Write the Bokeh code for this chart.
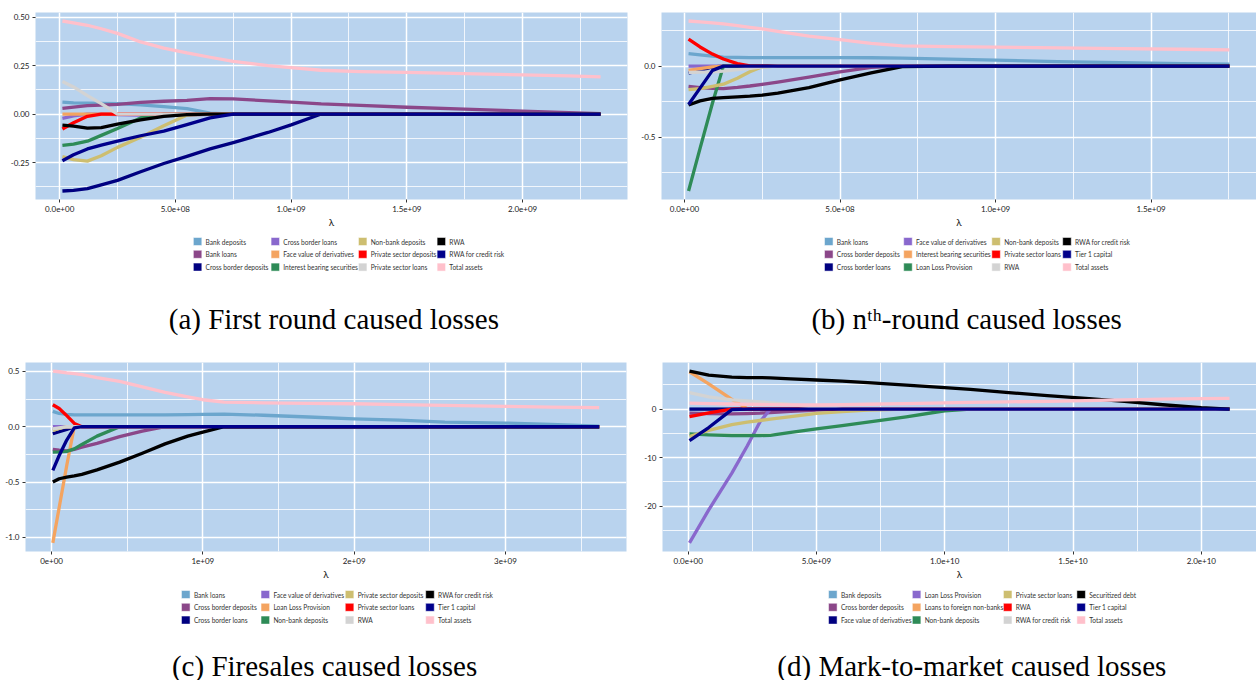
from bokeh.plotting import figure
from bokeh.models import FixedTicker, CustomJSTickFormatter, DataRange1d, Range1d
from bokeh.core.properties import value
from bokeh.layouts import column, row
from bokeh.embed import file_html
from bokeh.resources import INLINE

PALETTE = ["#6CA6CD", "#8B4789", "#000080", "#8968CD", "#F4A460", "#2E8B57",
           "#CDBE70", "#FF0000", "#D3D3D3", "#000000", "#00008B", "#FFC0CB"]
BG = "#B9D3EE"

# ---------------- (a) First round caused losses ----------------
a_lambda = [0.012e9, 0.06e9, 0.12e9, 0.18e9, 0.25e9, 0.35e9, 0.45e9, 0.55e9, 0.65e9, 0.75e9,
            0.9e9, 1.0e9, 1.13e9, 1.3e9, 1.5e9, 1.75e9, 2.0e9, 2.2e9, 2.337e9]
a_names = ["Bank deposits", "Bank loans", "Cross border deposits", "Cross border loans",
           "Face value of derivatives", "Interest bearing securities", "Non-bank deposits",
           "Private sector deposits", "Private sector loans", "RWA", "RWA for credit risk",
           "Total assets"]
a_bank_deposits = [0.062, 0.058, 0.056, 0.055, 0.054, 0.047, 0.038, 0.028, 0.005, 0, 0, 0, 0, 0, 0, 0, 0, 0, 0]
a_bank_loans = [0.029, 0.036, 0.043, 0.046, 0.050, 0.060, 0.066, 0.070, 0.080, 0.078, 0.068, 0.062, 0.052, 0.045, 0.035, 0.025, 0.015, 0.007, 0.002]
a_cross_border_deposits = [-0.397, -0.394, -0.385, -0.365, -0.342, -0.298, -0.255, -0.218, -0.180, -0.147, -0.095, -0.056, 0, 0, 0, 0, 0, 0, 0]
a_cross_border_loans = [-0.022, -0.010, 0, 0, -0.003, -0.006, -0.008, -0.006, -0.002, 0, 0, 0, 0, 0, 0, 0, 0, 0, 0]
a_face_value = [0, 0, 0, 0, 0, 0, 0, 0, 0, 0, 0, 0, 0, 0, 0, 0, 0, 0, 0]
a_interest_bearing = [-0.162, -0.155, -0.140, -0.110, -0.075, -0.020, 0, 0, 0, 0, 0, 0, 0, 0, 0, 0, 0, 0, 0]
a_non_bank_deposits = [-0.220, -0.235, -0.243, -0.215, -0.172, -0.120, -0.060, -0.005, 0, 0, 0, 0, 0, 0, 0, 0, 0, 0, 0]
a_private_deposits = [-0.077, -0.045, -0.012, 0, 0, 0, 0, 0, 0, 0, 0, 0, 0, 0, 0, 0, 0, 0, 0]
a_private_loans = [0.168, 0.140, 0.095, 0.054, 0, 0, 0, 0, 0, 0, 0, 0, 0, 0, 0, 0, 0, 0, 0]
a_rwa = [-0.057, -0.062, -0.073, -0.070, -0.052, -0.030, -0.012, -0.003, 0, 0, 0, 0, 0, 0, 0, 0, 0, 0, 0]
a_rwa_credit = [-0.241, -0.210, -0.180, -0.160, -0.140, -0.112, -0.088, -0.055, -0.020, 0, 0, 0, 0, 0, 0, 0, 0, 0, 0]
a_total_assets = [0.480, 0.470, 0.458, 0.440, 0.416, 0.372, 0.340, 0.315, 0.293, 0.272, 0.250, 0.239, 0.226, 0.219, 0.215, 0.208, 0.202, 0.197, 0.192]
a_series = [a_bank_deposits, a_bank_loans, a_cross_border_deposits, a_cross_border_loans,
            a_face_value, a_interest_bearing, a_non_bank_deposits, a_private_deposits,
            a_private_loans, a_rwa, a_rwa_credit, a_total_assets]
a_xticks = [0, 5e8, 1e9, 1.5e9, 2e9]
a_xlabels = ["0.0e+00", "5.0e+08", "1.0e+09", "1.5e+09", "2.0e+09"]
a_xminor = [2.5e8, 7.5e8, 1.25e9, 1.75e9, 2.25e9]
a_yticks = [-0.25, 0.0, 0.25, 0.5]
a_ylabels = ["-0.25", "0.00", "0.25", "0.50"]
a_yminor = [-0.375, -0.125, 0.125, 0.375]
a_caption = "(a) First round caused losses"

# ---------------- (b) n-th round caused losses ----------------
b_lambda = [0.013e9, 0.05e9, 0.09e9, 0.125e9, 0.17e9, 0.21e9, 0.25e9, 0.3e9, 0.4e9, 0.5e9,
            0.6e9, 0.7e9, 0.85e9, 1.0e9, 1.2e9, 1.4e9, 1.6e9, 1.752e9]
b_names = ["Bank loans", "Cross border deposits", "Cross border loans", "Face value of derivatives",
           "Interest bearing securities", "Loan Loss Provision", "Non-bank deposits",
           "Private sector loans", "RWA", "RWA for credit risk", "Tier 1 capital", "Total assets"]
b_bank_loans = [0.088, 0.080, 0.070, 0.064, 0.061, 0.060, 0.060, 0.060, 0.060, 0.060, 0.059, 0.056, 0.050, 0.042, 0.032, 0.024, 0.017, 0.014]
b_cross_border_deposits = [-0.143, -0.152, -0.157, -0.158, -0.150, -0.140, -0.128, -0.112, -0.078, -0.040, -0.008, 0, 0, 0, 0, 0, 0, 0]
b_cross_border_loans = [-0.050, -0.030, -0.005, 0, 0, 0, 0, 0, 0, 0, 0, 0, 0, 0, 0, 0, 0, 0]
b_face_value = [0, 0, 0, 0, 0, 0, 0, 0, 0, 0, 0, 0, 0, 0, 0, 0, 0, 0]
b_interest_bearing = [-0.030, -0.018, -0.005, 0, 0, 0, 0, 0, 0, 0, 0, 0, 0, 0, 0, 0, 0, 0]
b_loan_loss = [-0.880, -0.580, -0.260, 0, 0, 0, 0, 0, 0, 0, 0, 0, 0, 0, 0, 0, 0, 0]
b_non_bank_deposits = [-0.166, -0.158, -0.142, -0.127, -0.085, -0.040, -0.005, 0, 0, 0, 0, 0, 0, 0, 0, 0, 0, 0]
b_private_loans = [0.190, 0.135, 0.085, 0.050, 0.018, 0.002, 0, 0, 0, 0, 0, 0, 0, 0, 0, 0, 0, 0]
b_rwa = [-0.045, -0.042, -0.040, -0.035, -0.025, -0.015, -0.005, 0, 0, 0, 0, 0, 0, 0, 0, 0, 0, 0]
b_rwa_credit = [-0.274, -0.245, -0.228, -0.222, -0.217, -0.212, -0.205, -0.190, -0.152, -0.097, -0.048, -0.003, 0, 0, 0, 0, 0, 0]
b_tier1 = [-0.270, -0.155, -0.030, 0, 0, 0, 0, 0, 0, 0, 0, 0, 0, 0, 0, 0, 0, 0]
b_total_assets = [0.318, 0.312, 0.305, 0.298, 0.285, 0.273, 0.262, 0.245, 0.212, 0.187, 0.160, 0.143, 0.137, 0.134, 0.129, 0.124, 0.119, 0.115]
b_series = [b_bank_loans, b_cross_border_deposits, b_cross_border_loans, b_face_value,
            b_interest_bearing, b_loan_loss, b_non_bank_deposits, b_private_loans, b_rwa,
            b_rwa_credit, b_tier1, b_total_assets]
b_xticks = [0, 5e8, 1e9, 1.5e9]
b_xlabels = ["0.0e+00", "5.0e+08", "1.0e+09", "1.5e+09"]
b_xminor = [2.5e8, 7.5e8, 1.25e9, 1.75e9]
b_yticks = [-0.5, 0.0]
b_ylabels = ["-0.5", "0.0"]
b_yminor = [-0.75, -0.25, 0.25]
b_caption = "(b) n\u1d57\u02b0-round caused losses"

# ---------------- (c) Firesales caused losses ----------------
c_lambda = [0.008e9, 0.05e9, 0.1e9, 0.15e9, 0.2e9, 0.3e9, 0.45e9, 0.6e9, 0.75e9, 0.9e9,
            1.0e9, 1.14e9, 1.4e9, 1.7e9, 2.0e9, 2.3e9, 2.6e9, 3.0e9, 3.3e9, 3.62e9]
c_names = ["Bank loans", "Cross border deposits", "Cross border loans", "Face value of derivatives",
           "Loan Loss Provision", "Non-bank deposits", "Private sector deposits",
           "Private sector loans", "RWA", "RWA for credit risk", "Tier 1 capital", "Total assets"]
c_bank_loans = [0.139, 0.120, 0.111, 0.108, 0.107, 0.107, 0.107, 0.108, 0.108, 0.109, 0.111, 0.114, 0.104, 0.088, 0.072, 0.059, 0.042, 0.033, 0.022, 0.006]
c_cross_border_deposits = [-0.205, -0.212, -0.218, -0.205, -0.185, -0.150, -0.090, -0.040, 0, 0, 0, 0, 0, 0, 0, 0, 0, 0, 0, 0]
c_cross_border_loans = [-0.063, -0.045, -0.025, 0, 0, 0, 0, 0, 0, 0, 0, 0, 0, 0, 0, 0, 0, 0, 0, 0]
c_face_value = [0, 0, 0, 0, 0, 0, 0, 0, 0, 0, 0, 0, 0, 0, 0, 0, 0, 0, 0, 0]
c_loan_loss = [-1.050, -0.730, -0.350, 0, 0, 0, 0, 0, 0, 0, 0, 0, 0, 0, 0, 0, 0, 0, 0, 0]
c_non_bank_deposits = [-0.229, -0.227, -0.223, -0.200, -0.160, -0.085, 0, 0, 0, 0, 0, 0, 0, 0, 0, 0, 0, 0, 0, 0]
c_private_deposits = [-0.033, -0.015, 0, 0, 0, 0, 0, 0, 0, 0, 0, 0, 0, 0, 0, 0, 0, 0, 0, 0]
c_private_loans = [0.199, 0.165, 0.100, 0.030, 0, 0, 0, 0, 0, 0, 0, 0, 0, 0, 0, 0, 0, 0, 0, 0]
c_rwa = [-0.020, -0.010, 0, 0, 0, 0, 0, 0, 0, 0, 0, 0, 0, 0, 0, 0, 0, 0, 0, 0]
c_rwa_credit = [-0.500, -0.470, -0.455, -0.445, -0.430, -0.390, -0.320, -0.240, -0.155, -0.085, -0.048, 0, 0, 0, 0, 0, 0, 0, 0, 0]
c_tier1 = [-0.395, -0.260, -0.120, -0.010, 0, 0, 0, 0, 0, 0, 0, 0, 0, 0, 0, 0, 0, 0, 0, 0]
c_total_assets = [0.503, 0.497, 0.487, 0.480, 0.472, 0.445, 0.410, 0.360, 0.310, 0.270, 0.244, 0.223, 0.216, 0.212, 0.208, 0.200, 0.193, 0.184, 0.178, 0.172]
c_series = [c_bank_loans, c_cross_border_deposits, c_cross_border_loans, c_face_value,
            c_loan_loss, c_non_bank_deposits, c_private_deposits, c_private_loans, c_rwa,
            c_rwa_credit, c_tier1, c_total_assets]
c_xticks = [0, 1e9, 2e9, 3e9]
c_xlabels = ["0e+00", "1e+09", "2e+09", "3e+09"]
c_xminor = [5e8, 1.5e9, 2.5e9, 3.5e9]
c_yticks = [-1.0, -0.5, 0.0, 0.5]
c_ylabels = ["-1.0", "-0.5", "0.0", "0.5"]
c_yminor = [-0.75, -0.25, 0.25]
c_caption = "(c) Firesales caused losses"

# ---------------- (d) Mark-to-market caused losses ----------------
d_lambda = [0.05e9, 0.8e9, 1.7e9, 2.3e9, 2.8e9, 3.2e9, 4.0e9, 5.0e9, 6.0e9, 7.0e9,
            8.5e9, 10.0e9, 11.0e9, 12.5e9, 14.0e9, 15.5e9, 17.0e9, 18.5e9, 20.0e9, 21.1e9]
d_names = ["Bank deposits", "Cross border deposits", "Face value of derivatives",
           "Loan Loss Provision", "Loans to foreign non-banks", "Non-bank deposits",
           "Private sector loans", "RWA", "RWA for credit risk", "Securitized debt",
           "Tier 1 capital", "Total assets"]
d_bank_deposits = [0, 0, 0, 0, 0, 0, 0, 0, 0, 0, 0, 0, 0, 0, 0, 0, 0, 0, 0, 0]
d_cross_border_deposits = [-0.82, -0.95, -1.00, -0.95, -0.85, -0.70, -0.45, -0.20, 0, 0, 0, 0, 0, 0, 0, 0, 0, 0, 0, 0]
d_face_value = [0, 0, 0, 0, 0, 0, 0, 0, 0, 0, 0, 0, 0, 0, 0, 0, 0, 0, 0, 0]
d_loan_loss = [-27.6, -20.8, -13.2, -7.6, -2.6, 0, 0, 0, 0, 0, 0, 0, 0, 0, 0, 0, 0, 0, 0, 0]
d_loans_foreign = [7.7, 5.2, 2.0, 0.1, 0, 0, 0, 0, 0, 0, 0, 0, 0, 0, 0, 0, 0, 0, 0, 0]
d_non_bank_deposits = [-5.10, -5.30, -5.45, -5.45, -5.45, -5.40, -4.80, -4.10, -3.40, -2.70, -1.60, -0.34, 0, 0, 0, 0, 0, 0, 0, 0]
d_private_loans = [-5.65, -4.40, -3.20, -2.70, -2.35, -2.05, -1.55, -0.90, -0.50, -0.20, 0, 0, 0, 0, 0, 0, 0, 0, 0, 0]
d_rwa = [-1.56, -0.80, 0, 0, 0, 0, 0, 0, 0, 0, 0, 0, 0, 0, 0, 0, 0, 0, 0, 0]
d_rwa_credit = [3.40, 2.50, 1.90, 1.70, 1.50, 1.30, 0.95, 0.40, 0, 0, 0, 0, 0, 0, 0, 0, 0, 0, 0, 0]
d_securitized = [7.84, 7.00, 6.60, 6.50, 6.50, 6.45, 6.25, 6.00, 5.75, 5.45, 4.95, 4.43, 4.05, 3.40, 2.80, 2.20, 1.60, 0.90, 0.30, 0.00]
d_tier1 = [-6.50, -3.80, -0.10, 0, 0, 0, 0, 0, 0, 0, 0, 0, 0, 0, 0, 0, 0, 0, 0, 0]
d_total_assets = [1.23, 1.15, 1.05, 1.00, 0.95, 0.92, 0.87, 0.85, 0.90, 1.00, 1.15, 1.30, 1.40, 1.50, 1.60, 1.75, 1.90, 2.05, 2.15, 2.20]
d_series = [d_bank_deposits, d_cross_border_deposits, d_face_value, d_loan_loss, d_loans_foreign,
            d_non_bank_deposits, d_private_loans, d_rwa, d_rwa_credit, d_securitized, d_tier1,
            d_total_assets]
d_xticks = [0, 5e9, 1e10, 1.5e10, 2e10]
d_xlabels = ["0.0e+00", "5.0e+09", "1.0e+10", "1.5e+10", "2.0e+10"]
d_xminor = [2.5e9, 7.5e9, 1.25e10, 1.75e10]
d_yticks = [-20, -10, 0]
d_ylabels = ["-20", "-10", "0"]
d_yminor = [-25, -15, -5, 5]
d_caption = "(d) Mark-to-market caused losses"

FMT_CODE = """
for (let i = 0; i < tv.length; i++) {
  if (Math.abs(tv[i] - tick) <= 1e-6 * Math.max(1, Math.abs(tv[i]))) { return tl[i]; }
}
return "";
"""


def make_plot(xs, series, xticks, xlabels, xminor, yticks, ylabels, yminor,
              width, height, bl, br, bt, bb):
    p = figure(width=width, height=height, output_backend="svg", toolbar_location=None,
               x_range=DataRange1d(range_padding=0.1), y_range=DataRange1d(range_padding=0.1),
               min_border_left=bl, min_border_right=br, min_border_top=bt, min_border_bottom=bb)
    p.background_fill_color = BG
    p.border_fill_color = "white"
    p.outline_line_color = None

    for ys, color in zip(series, PALETTE):
        p.line(xs, ys, line_color=color, line_width=3.3, line_join="round")

    xt = FixedTicker(ticks=xticks, minor_ticks=xminor)
    yt = FixedTicker(ticks=yticks, minor_ticks=yminor)
    p.xaxis.ticker = xt
    p.yaxis.ticker = yt
    p.xgrid.ticker = xt
    p.ygrid.ticker = yt
    p.xaxis.formatter = CustomJSTickFormatter(args=dict(tv=xticks, tl=xlabels), code=FMT_CODE)
    p.yaxis.formatter = CustomJSTickFormatter(args=dict(tv=yticks, tl=ylabels), code=FMT_CODE)

    for g in (p.xgrid, p.ygrid):
        g.grid_line_color = "white"
        g.grid_line_width = 1.5
        g.minor_grid_line_color = "white"
        g.minor_grid_line_width = 0.8

    for ax in (p.xaxis, p.yaxis):
        ax.axis_line_color = None
        ax.major_tick_line_color = "#333333"
        ax.major_tick_out = 3
        ax.major_tick_in = 0
        ax.minor_tick_line_color = None
        ax.major_label_text_font = "Lato"
        ax.major_label_text_font_size = "8px"
        ax.major_label_text_color = "#1a1a1a"
        ax.major_label_standoff = 2
    p.xaxis.axis_label = "λ"
    p.xaxis.axis_label_text_font = "Lato"
    p.xaxis.axis_label_text_font_style = "normal"
    p.xaxis.axis_label_text_font_size = "10px"
    p.xaxis.axis_label_text_color = "#1a1a1a"
    p.xaxis.axis_label_standoff = 1
    return p


def make_legend(names, caption, width, height, leg_center, col_offsets, leg_width,
                row_y0, cap_x, cap_y):
    p = figure(width=width, height=height, output_backend="svg", toolbar_location=None,
               x_range=Range1d(0, width), y_range=Range1d(height, 0),
               x_axis_type=None, y_axis_type=None, min_border=0)
    p.outline_line_color = None
    p.background_fill_color = "white"
    p.border_fill_color = "white"
    left = leg_center - leg_width / 2
    gx, gy, lx = [], [], []
    for k in range(len(names)):
        c, r = divmod(k, 3)
        gx.append(left + col_offsets[c] + 4.5)
        gy.append(row_y0 + r * 12.8)
        lx.append(left + col_offsets[c] + 13)
    p.rect(x=gx, y=gy, width=9, height=8, fill_color=PALETTE[:len(names)],
           line_color="white", line_width=0.5)
    p.text(x=lx, y=gy, text=names, text_font=value("Lato"), text_font_size=value("6.6px"),
           text_baseline="middle", text_align="left", text_color="#333333")
    p.text(x=[cap_x], y=[cap_y], text=[caption], text_font=value("Liberation Serif"),
           text_font_size=value("29px"), text_baseline="middle", text_align="center",
           text_color="black")
    return p


fa = make_plot(a_lambda, a_series, a_xticks, a_xlabels, a_xminor,
               a_yticks, a_ylabels, a_yminor, 630, 230, 35, 3, 12, 30)
fb = make_plot(b_lambda, b_series, b_xticks, b_xlabels, b_xminor,
               b_yticks, b_ylabels, b_yminor, 626, 230, 31, 0, 12, 30)
fc = make_plot(c_lambda, c_series, c_xticks, c_xlabels, c_xminor,
               c_yticks, c_ylabels, c_yminor, 630, 232, 25, 4, 12, 30)
fd = make_plot(d_lambda, d_series, d_xticks, d_xlabels, d_xminor,
               d_yticks, d_ylabels, d_yminor, 626, 232, 32, 0, 12, 30)

la = make_legend(a_names, a_caption, 630, 120, 334, [0, 82.7, 175.7, 259.4], 332, 11, 317.5, 88)
lb = make_legend(b_names, b_caption, 626, 120, 333, [0, 83.3, 176, 250.6], 323, 11, 321, 88)
lc = make_legend(c_names, c_caption, 630, 98, 327.5, [0, 83.4, 171.7, 256], 328, 12, 313.5, 83)
ld = make_legend(d_names, d_caption, 626, 98, 336, [0, 88.3, 184.3, 261.7], 322, 12, 326, 83)

layout = column(row(column(fa, la), column(fb, lb)), row(column(fc, lc), column(fd, ld)))
open("out.html", "w").write(file_html(layout, INLINE))
